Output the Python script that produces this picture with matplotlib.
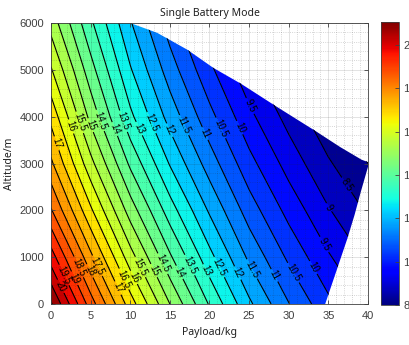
import numpy as np
import matplotlib
matplotlib.use("Agg")
import matplotlib.pyplot as plt
from matplotlib.patches import Polygon
from matplotlib.colors import Normalize
from matplotlib.cm import ScalarMappable
from matplotlib.ticker import MultipleLocator

# endurance (min) on a payload x altitude grid
payload = [0, 5, 10, 15, 20, 25, 30, 35, 40]
altitude = [0, 1000, 2000, 3000, 4000, 5000, 6000]
endurance = [
    [21.07, 18.75, 16.75, 15.00, 13.45, 12.10, 11.02, 10.12, 9.40],
    [19.75, 17.63, 15.72, 14.08, 12.66, 11.40, 10.40, 9.56, 8.90],
    [18.55, 16.59, 14.77, 13.24, 11.93, 10.76, 9.83, 9.04, 8.43],
    [17.60, 15.66, 13.90, 12.46, 11.26, 10.17, 9.30, 8.56, 8.00],
    [16.85, 14.85, 13.12, 11.80, 10.66, 9.63, 8.82, 8.12, 7.60],
    [16.05, 14.20, 12.55, 11.25, 10.12, 9.13, 8.37, 7.71, 7.20],
    [15.30, 13.60, 12.05, 10.75, 9.65, 8.70, 7.95, 7.32, 6.85],
]

# flyable envelope: ceiling curve, then max-payload edge down to the ground
ceiling_p = [10.0, 13.4, 17.2, 20.5, 24.0, 28.5, 33.5, 36.5, 39.2, 40.0]
ceiling_h = [6000, 5790, 5430, 5040, 4700, 4210, 3680, 3350, 3080, 3030]
maxload_p = [40.0, 39.1, 38.3, 37.4, 36.4, 35.4, 34.6]
maxload_h = [2930, 2400, 1900, 1400, 900, 400, 0]

# where the contour labels sit
label_pos = {
    20.0: [(1.5, 400)], 19.5: [(1.9, 640)], 19.0: [(3.1, 560)], 18.5: [(3.6, 800)],
    18.0: [(4.8, 700)], 17.5: [(5.9, 820)], 17.0: [(8.3, 330), (0.9, 3440)],
    16.5: [(8.9, 510)], 16.0: [(10.6, 580), (1.3, 3720)],
    15.5: [(11.4, 800), (3.4, 3865)], 15.0: [(12.7, 690), (4.7, 3800)],
    14.5: [(14.2, 870), (5.9, 3900)], 14.0: [(15.9, 650), (7.8, 3720)],
    13.5: [(17.1, 800), (9.1, 3900)], 13.0: [(19.4, 690), (10.8, 3720)],
    12.5: [(20.9, 760), (12.5, 3860)], 12.0: [(23.4, 650), (14.5, 3680)],
    11.5: [(25.5, 760), (16.4, 3790)], 11.0: [(28.3, 620), (19.0, 3610)],
    10.5: [(30.8, 690), (21.3, 3750)], 10.0: [(33.3, 800), (23.6, 3750)],
    9.5: [(34.8, 1300), (24.9, 4210)], 9.0: [(35.2, 2080)], 8.5: [(36.9, 2500)],
}

plt.rcParams['font.family'] = ['Liberation Sans', 'DejaVu Sans']
grey = '#404040'

fig = plt.figure(figsize=(4.10, 3.45), dpi=100)
ax = fig.add_axes([51 / 410, 41 / 345, 317 / 410, 281 / 345])

P, H = np.meshgrid(payload, altitude)
Z = np.array(endurance)
norm = Normalize(8.0, 21.07)
levels = np.arange(7.0, 22.0, 0.5)

verts = [(0, 0), (0, 6000)] + list(zip(ceiling_p, ceiling_h)) + list(zip(maxload_p, maxload_h))
region = Polygon(verts, closed=True, transform=ax.transData,
                 facecolor='none', edgecolor='none')

cf = ax.contourf(P, H, Z, levels=levels, cmap='jet', norm=norm)
cf.set_clip_path(region)

# one line set per level so each label lands on its own line
for lev in levels[:-1]:
    cs = ax.contour(P, H, Z, levels=[lev], colors='k', linewidths=0.8)
    cs.set_clip_path(region)
    if lev in label_pos:
        cs.clabel(manual=label_pos[lev], inline=True, inline_spacing=2,
                  fmt='%g', fontsize=7)

ax.set_xlim(0, 40)
ax.set_ylim(0, 6000)
ax.set_xticks(range(0, 41, 5))
ax.set_yticks(range(0, 6001, 1000))
ax.xaxis.set_minor_locator(MultipleLocator(1))
ax.yaxis.set_minor_locator(MultipleLocator(200))
ax.set_axisbelow(False)
ax.grid(which='major', color='#262626', alpha=0.15, linewidth=0.6)
ax.grid(which='minor', color='#262626', alpha=0.25, linestyle=':', linewidth=0.6)
ax.tick_params(which='major', direction='in', length=3, width=0.6,
               top=True, right=True, labelsize=8, colors=grey, pad=5)
ax.tick_params(which='minor', length=0, top=True, right=True)
for s in ax.spines.values():
    s.set_color(grey)
    s.set_linewidth(0.6)

ax.set_title('Single Battery Mode', fontsize=7.5, color='#202020', pad=5,
             family=['Noto Sans', 'DejaVu Sans'])
ax.set_xlabel('Payload/kg', fontsize=7.5, color='#202020', labelpad=4,
              family=['Noto Sans', 'DejaVu Sans'])
ax.set_ylabel('Altitude/m', fontsize=7.5, color='#202020', labelpad=3,
              family=['Noto Sans', 'DejaVu Sans'])

cax = fig.add_axes([381 / 410, 40 / 345, 18 / 410, 283 / 345])
cb = fig.colorbar(ScalarMappable(norm=norm, cmap='jet'), cax=cax,
                  ticks=range(8, 21, 2))
cb.outline.set_linewidth(0.6)
cb.outline.set_edgecolor(grey)
cax.tick_params(direction='in', length=3, width=0.6, labelsize=8,
                colors=grey, pad=3)

fig.savefig('out.png', dpi=100)
